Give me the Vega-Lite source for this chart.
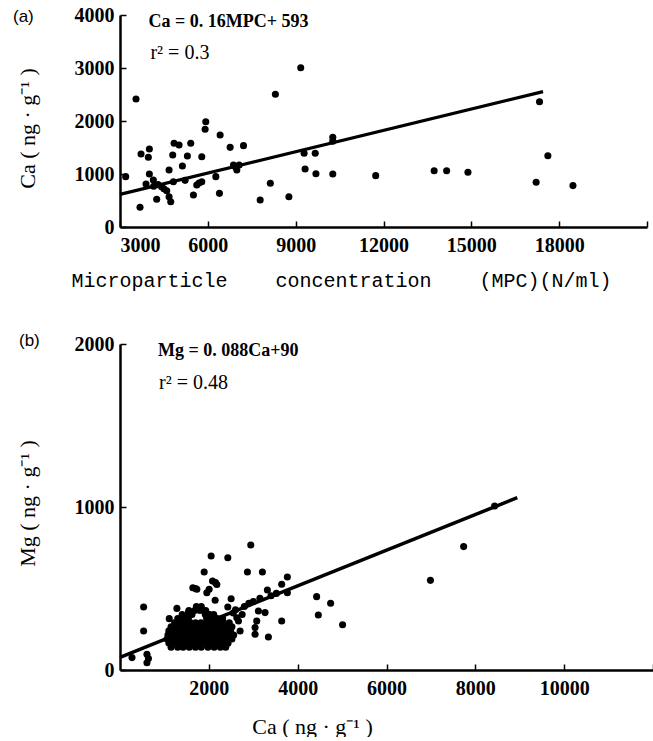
{
  "$schema": "https://vega.github.io/schema/vega-lite/v6.json",
  "background": "white",
  "padding": {"left": 13, "top": 5, "right": 0, "bottom": 0},
  "spacing": 42,
  "config": {
    "view": {"stroke": null},
    "axis": {
      "grid": false,
      "domain": true,
      "domainColor": "black",
      "domainWidth": 2.5,
      "ticks": true,
      "tickColor": "black",
      "tickWidth": 1.5,
      "tickSize": -6,
      "labelFont": "Liberation Serif",
      "labelFontWeight": "bold",
      "labelFontSize": 20,
      "labelColor": "black",
      "titleColor": "black",
      "titleFontWeight": "normal"
    }
  },
  "vconcat": [
    {
      "width": 527,
      "height": 212,
      "title": {"text": "(a)", "anchor": "start", "frame": "group", "dx": -107, "dy": 29, "offset": 0, "baseline": "middle", "font": "Liberation Sans", "fontSize": 17, "fontWeight": "normal", "color": "black"},
      "layer": [
        {
          "data": {"values": [
            {"mpc": 3194, "ca": 950}, {"mpc": 3547, "ca": 2415}, {"mpc": 3684, "ca": 372}, {"mpc": 3718, "ca": 1378},
            {"mpc": 3889, "ca": 811}, {"mpc": 4003, "ca": 1472}, {"mpc": 3968, "ca": 1315}, {"mpc": 4003, "ca": 1000},
            {"mpc": 4139, "ca": 887}, {"mpc": 4254, "ca": 522}, {"mpc": 4150, "ca": 770}, {"mpc": 4300, "ca": 800},
            {"mpc": 4420, "ca": 760}, {"mpc": 4500, "ca": 720}, {"mpc": 4676, "ca": 1076}, {"mpc": 4801, "ca": 1359},
            {"mpc": 4596, "ca": 685}, {"mpc": 4676, "ca": 572}, {"mpc": 4733, "ca": 478}, {"mpc": 4847, "ca": 1579},
            {"mpc": 5018, "ca": 1547}, {"mpc": 4824, "ca": 855}, {"mpc": 5131, "ca": 1151}, {"mpc": 5302, "ca": 1340},
            {"mpc": 5416, "ca": 1579}, {"mpc": 5223, "ca": 880}, {"mpc": 5508, "ca": 604}, {"mpc": 5622, "ca": 792},
            {"mpc": 5793, "ca": 855}, {"mpc": 5700, "ca": 830}, {"mpc": 5793, "ca": 1327}, {"mpc": 5907, "ca": 1843},
            {"mpc": 5930, "ca": 1987}, {"mpc": 6273, "ca": 950}, {"mpc": 6420, "ca": 1736}, {"mpc": 6397, "ca": 635},
            {"mpc": 6762, "ca": 1503}, {"mpc": 6876, "ca": 1170}, {"mpc": 6990, "ca": 1076}, {"mpc": 7070, "ca": 1170},
            {"mpc": 7218, "ca": 1535}, {"mpc": 6950, "ca": 1130}, {"mpc": 7788, "ca": 509}, {"mpc": 8135, "ca": 824},
            {"mpc": 8308, "ca": 2504}, {"mpc": 8769, "ca": 572}, {"mpc": 9173, "ca": 3006}, {"mpc": 9288, "ca": 1390},
            {"mpc": 9668, "ca": 1390}, {"mpc": 9322, "ca": 1094}, {"mpc": 9692, "ca": 1006}, {"mpc": 10268, "ca": 1692},
            {"mpc": 10268, "ca": 1620}, {"mpc": 10268, "ca": 1000}, {"mpc": 11734, "ca": 969}, {"mpc": 13730, "ca": 1063},
            {"mpc": 14157, "ca": 1063}, {"mpc": 14884, "ca": 1032}, {"mpc": 17214, "ca": 844}, {"mpc": 17329, "ca": 2363},
            {"mpc": 17614, "ca": 1344}, {"mpc": 18471, "ca": 781}
          ]},
          "mark": {"type": "circle", "size": 50, "opacity": 1, "color": "black"},
          "encoding": {
            "x": {"field": "mpc", "type": "quantitative",
              "scale": {"domain": [3000, 21000], "nice": false, "zero": false},
              "axis": {"values": [3000, 6000, 9000, 12000, 15000, 18000, 21000], "format": "d",
                "labelExpr": "datum.value == 21000 ? '' : datum.label", "labelPadding": 14,
                "title": "Microparticle\u00a0\u00a0\u00a0\u00a0concentration\u00a0\u00a0\u00a0\u00a0(MPC)(N/ml)",
                "titleFont": "Liberation Mono", "titleFontSize": 20,
                "titleX": 221, "titleY": 53, "titleAlign": "center", "titleBaseline": "middle"}},
            "y": {"field": "ca", "type": "quantitative",
              "scale": {"domain": [0, 4000], "nice": false},
              "axis": {"values": [0, 1000, 2000, 3000, 4000], "format": "d", "labelPadding": 12,
                "title": "Ca\u00a0(\u00a0ng\u00a0·\u00a0g⁻¹\u00a0)", "titleFont": "Liberation Serif", "titleFontSize": 22,
                "titleX": -93, "titleY": 113, "titleAngle": 270, "titleAlign": "center", "titleBaseline": "middle"}}
          }
        },
        {
          "data": {"values": [{"mpc": 3000, "ca": 615}, {"mpc": 17450, "ca": 2555}]},
          "mark": {"type": "line", "color": "black", "strokeWidth": 3.2},
          "encoding": {"x": {"field": "mpc", "type": "quantitative"}, "y": {"field": "ca", "type": "quantitative"}}
        },
        {
          "data": {"values": [{"mpc": 3970, "ca": 3874, "label": "Ca = 0. 16MPC+ 593"}]},
          "mark": {"type": "text", "align": "left", "baseline": "middle", "font": "Liberation Serif", "fontWeight": "bold", "fontSize": 18, "color": "black"},
          "encoding": {"x": {"field": "mpc", "type": "quantitative"}, "y": {"field": "ca", "type": "quantitative"}, "text": {"field": "label"}}
        },
        {
          "data": {"values": [{"mpc": 4040, "ca": 3277, "label": "r² = 0.3"}]},
          "mark": {"type": "text", "align": "left", "baseline": "middle", "font": "Liberation Serif", "fontWeight": "normal", "fontSize": 20, "color": "black"},
          "encoding": {"x": {"field": "mpc", "type": "quantitative"}, "y": {"field": "ca", "type": "quantitative"}, "text": {"field": "label"}}
        }
      ]
    },
    {
      "width": 533,
      "height": 326,
      "title": {"text": "(b)", "anchor": "start", "frame": "group", "dx": -101, "dy": 24, "offset": 0, "baseline": "middle", "font": "Liberation Sans", "fontSize": 17, "fontWeight": "normal", "color": "black"},
      "layer": [
        {
          "data": {"values": [
            {"ca": 270, "mg": 76}, {"ca": 532, "mg": 387}, {"ca": 532, "mg": 239}, {"ca": 607, "mg": 96}, {"ca": 607, "mg": 45},
            {"ca": 640, "mg": 70}, {"ca": 1109, "mg": 315}, {"ca": 1281, "mg": 378}, {"ca": 1543, "mg": 352}, {"ca": 1640, "mg": 505},
            {"ca": 1700, "mg": 500}, {"ca": 1730, "mg": 495}, {"ca": 1783, "mg": 378}, {"ca": 1895, "mg": 601}, {"ca": 1955, "mg": 474},
            {"ca": 2007, "mg": 495}, {"ca": 2052, "mg": 699}, {"ca": 2083, "mg": 546}, {"ca": 2150, "mg": 536}, {"ca": 2180, "mg": 525},
            {"ca": 2142, "mg": 428}, {"ca": 2427, "mg": 689}, {"ca": 2502, "mg": 437}, {"ca": 2427, "mg": 387}, {"ca": 2427, "mg": 164},
            {"ca": 2869, "mg": 601}, {"ca": 2944, "mg": 767}, {"ca": 3206, "mg": 601}, {"ca": 3318, "mg": 491}, {"ca": 3341, "mg": 202},
            {"ca": 3640, "mg": 301}, {"ca": 3640, "mg": 526}, {"ca": 3768, "mg": 571}, {"ca": 3768, "mg": 474}, {"ca": 3079, "mg": 301},
            {"ca": 3041, "mg": 260}, {"ca": 3041, "mg": 219}, {"ca": 3116, "mg": 362}, {"ca": 3266, "mg": 352}, {"ca": 2667, "mg": 301},
            {"ca": 2704, "mg": 239}, {"ca": 2630, "mg": 321}, {"ca": 2550, "mg": 350}, {"ca": 2600, "mg": 370}, {"ca": 2750, "mg": 340},
            {"ca": 2800, "mg": 390}, {"ca": 2900, "mg": 410}, {"ca": 3000, "mg": 420}, {"ca": 3150, "mg": 440}, {"ca": 3400, "mg": 455},
            {"ca": 3520, "mg": 470}, {"ca": 4427, "mg": 450}, {"ca": 4742, "mg": 409}, {"ca": 4465, "mg": 337}, {"ca": 5011, "mg": 278},
            {"ca": 6989, "mg": 550}, {"ca": 7737, "mg": 757}, {"ca": 8434, "mg": 1006},
            {"ca": 1150, "mg": 140}, {"ca": 1300, "mg": 140}, {"ca": 1420, "mg": 140}, {"ca": 1560, "mg": 140}, {"ca": 1700, "mg": 140},
            {"ca": 1830, "mg": 140}, {"ca": 1980, "mg": 140}, {"ca": 2120, "mg": 140}, {"ca": 2260, "mg": 140}, {"ca": 2380, "mg": 140},
            {"ca": 1100, "mg": 165}, {"ca": 1230, "mg": 165}, {"ca": 1350, "mg": 165}, {"ca": 1480, "mg": 165}, {"ca": 1610, "mg": 165},
            {"ca": 1750, "mg": 165}, {"ca": 1890, "mg": 165}, {"ca": 2030, "mg": 165}, {"ca": 2170, "mg": 165}, {"ca": 2300, "mg": 165},
            {"ca": 2430, "mg": 165},
            {"ca": 1060, "mg": 190}, {"ca": 1180, "mg": 190}, {"ca": 1290, "mg": 190}, {"ca": 1400, "mg": 190}, {"ca": 1520, "mg": 190},
            {"ca": 1650, "mg": 190}, {"ca": 1780, "mg": 190}, {"ca": 1900, "mg": 190}, {"ca": 2020, "mg": 190}, {"ca": 2150, "mg": 190},
            {"ca": 2280, "mg": 190}, {"ca": 2410, "mg": 190}, {"ca": 2520, "mg": 190},
            {"ca": 1080, "mg": 215}, {"ca": 1200, "mg": 215}, {"ca": 1320, "mg": 215}, {"ca": 1440, "mg": 215}, {"ca": 1560, "mg": 215},
            {"ca": 1690, "mg": 215}, {"ca": 1810, "mg": 215}, {"ca": 1940, "mg": 215}, {"ca": 2060, "mg": 215}, {"ca": 2190, "mg": 215},
            {"ca": 2320, "mg": 215}, {"ca": 2450, "mg": 215}, {"ca": 2560, "mg": 215},
            {"ca": 1100, "mg": 240}, {"ca": 1220, "mg": 240}, {"ca": 1340, "mg": 240}, {"ca": 1470, "mg": 240}, {"ca": 1590, "mg": 240},
            {"ca": 1720, "mg": 240}, {"ca": 1850, "mg": 240}, {"ca": 1970, "mg": 240}, {"ca": 2100, "mg": 240}, {"ca": 2230, "mg": 240},
            {"ca": 2360, "mg": 240}, {"ca": 2490, "mg": 240},
            {"ca": 1150, "mg": 265}, {"ca": 1270, "mg": 265}, {"ca": 1390, "mg": 265}, {"ca": 1510, "mg": 265}, {"ca": 1630, "mg": 265},
            {"ca": 1760, "mg": 265}, {"ca": 1890, "mg": 265}, {"ca": 2010, "mg": 265}, {"ca": 2140, "mg": 265}, {"ca": 2270, "mg": 265},
            {"ca": 2400, "mg": 265}, {"ca": 2520, "mg": 265},
            {"ca": 1230, "mg": 290}, {"ca": 1350, "mg": 290}, {"ca": 1470, "mg": 290}, {"ca": 1590, "mg": 290}, {"ca": 1700, "mg": 290},
            {"ca": 1820, "mg": 290}, {"ca": 1960, "mg": 290}, {"ca": 2080, "mg": 290}, {"ca": 2200, "mg": 290}, {"ca": 2330, "mg": 290},
            {"ca": 2460, "mg": 290},
            {"ca": 1300, "mg": 315}, {"ca": 1420, "mg": 315}, {"ca": 1540, "mg": 315}, {"ca": 1950, "mg": 315}, {"ca": 2070, "mg": 315},
            {"ca": 2190, "mg": 315}, {"ca": 2310, "mg": 315},
            {"ca": 1400, "mg": 340}, {"ca": 1520, "mg": 340}, {"ca": 1620, "mg": 340}, {"ca": 1920, "mg": 340}, {"ca": 2020, "mg": 340},
            {"ca": 2110, "mg": 340},
            {"ca": 1550, "mg": 365}, {"ca": 1680, "mg": 365}, {"ca": 1800, "mg": 365}, {"ca": 1930, "mg": 365},
            {"ca": 1720, "mg": 390}, {"ca": 1830, "mg": 390}
          ]},
          "mark": {"type": "circle", "size": 50, "opacity": 1, "color": "black"},
          "encoding": {
            "x": {"field": "ca", "type": "quantitative",
              "scale": {"domain": [0, 12000], "nice": false},
              "axis": {"values": [2000, 4000, 6000, 8000, 10000, 12000], "format": "d",
                "labelExpr": "datum.value == 12000 ? '' : datum.label", "labelPadding": 14,
                "title": "Ca\u00a0(\u00a0ng\u00a0·\u00a0g⁻¹\u00a0)", "titleFont": "Liberation Serif", "titleFontSize": 22,
                "titleX": 192, "titleY": 56, "titleAlign": "center", "titleBaseline": "middle"}},
            "y": {"field": "mg", "type": "quantitative",
              "scale": {"domain": [0, 2000], "nice": false},
              "axis": {"values": [0, 1000, 2000], "format": "d", "labelPadding": 12,
                "title": "Mg\u00a0(\u00a0ng\u00a0·\u00a0g⁻¹\u00a0)", "titleFont": "Liberation Serif", "titleFontSize": 22,
                "titleX": -93, "titleY": 159, "titleAngle": 270, "titleAlign": "center", "titleBaseline": "middle"}}
          }
        },
        {
          "data": {"values": [{"ca": 0, "mg": 78}, {"ca": 8944, "mg": 1057}]},
          "mark": {"type": "line", "color": "black", "strokeWidth": 3.5},
          "encoding": {"x": {"field": "ca", "type": "quantitative"}, "y": {"field": "mg", "type": "quantitative"}}
        },
        {
          "data": {"values": [{"ca": 854, "mg": 1957, "label": "Mg = 0. 088Ca+90"}]},
          "mark": {"type": "text", "align": "left", "baseline": "middle", "font": "Liberation Serif", "fontWeight": "bold", "fontSize": 18, "color": "black"},
          "encoding": {"x": {"field": "ca", "type": "quantitative"}, "y": {"field": "mg", "type": "quantitative"}, "text": {"field": "label"}}
        },
        {
          "data": {"values": [{"ca": 880, "mg": 1763, "label": "r² = 0.48"}]},
          "mark": {"type": "text", "align": "left", "baseline": "middle", "font": "Liberation Serif", "fontWeight": "normal", "fontSize": 20, "color": "black"},
          "encoding": {"x": {"field": "ca", "type": "quantitative"}, "y": {"field": "mg", "type": "quantitative"}, "text": {"field": "label"}}
        }
      ]
    }
  ]
}
